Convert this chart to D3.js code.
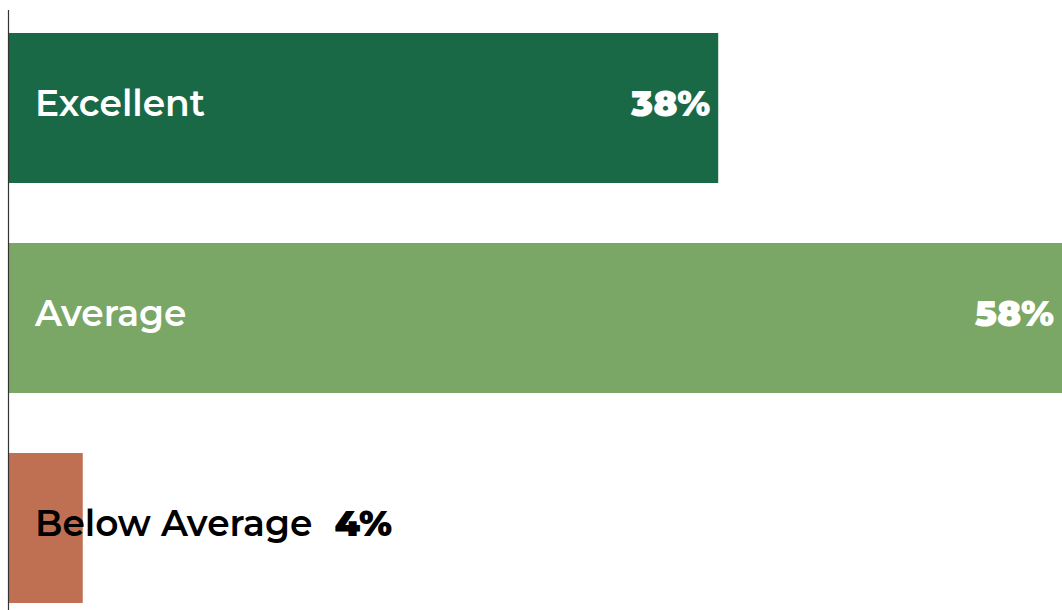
<!DOCTYPE html>
<html>
<head>
<meta charset="utf-8">
<script src="https://cdn.jsdelivr.net/npm/d3@7"></script>
<style>
    body { margin: 0; background: #fff; overflow: hidden; }
    svg { display: block; }
</style>
</head>
<body>
<div id="chart"></div>
<script>
// Data
const categories = ["Excellent", "Average", "Below Average"];
const values = [38, 58, 4];
const colors = ["#196947", "#7aa766", "#c07052"];

const width = 1062;
const height = 610;

// Scales
const x = d3.scaleLinear()
    .domain([0, d3.max(values)])
    .range([8, 1092]);

const y = d3.scaleBand()
    .domain(categories)
    .range([3, 633])
    .paddingInner(2 / 7)
    .paddingOuter(1 / 7);

const svg = d3.select("#chart").append("svg")
    .attr("width", width)
    .attr("height", height)
    .style("font-family", "Montserrat, 'Noto Sans', 'Open Sans', sans-serif");

const rows = categories.map((c, i) => ({name: c, value: values[i], color: colors[i]}));

// Bars
svg.append("g")
    .selectAll("rect")
    .data(rows)
    .join("rect")
    .attr("x", x(0))
    .attr("y", d => y(d.name))
    .attr("width", d => x(d.value) - x(0))
    .attr("height", y.bandwidth())
    .attr("fill", d => d.color);

// Axis line
const axis = svg.append("g")
    .attr("transform", `translate(${x(0)},0)`)
    .call(d3.axisLeft(y).tickSize(0).tickFormat(""));
axis.select(".domain")
    .attr("d", `M0.5,10V${height}`)
    .attr("stroke", "#333")
    .attr("stroke-width", 1.2);

// Category labels
const catLabels = svg.append("g")
    .selectAll("text")
    .data(rows)
    .join("text")
    .attr("x", 35)
    .attr("y", d => y(d.name) + y.bandwidth() / 2)
    .attr("dy", "0.22em")
    .style("font-size", "36px")
    .style("font-weight", 600)
    .attr("fill", d => (x(d.value) - x(0)) > 300 ? "#fff" : "#000")
    .text(d => d.name);

// Value labels: inside the bar end if it fits, else after the category label
svg.append("g")
    .selectAll("text")
    .data(rows)
    .join("text")
    .each(function(d, i) {
        const t = d3.select(this);
        const inside = (x(d.value) - x(0)) > 300;
        if (inside) {
            t.attr("x", Math.min(x(d.value), width) - 8)
                .attr("text-anchor", "end")
                .attr("fill", "#fff");
        } else {
            const w = catLabels.nodes()[i].getComputedTextLength();
            t.attr("x", 35 + w + 22)
                .attr("text-anchor", "start")
                .attr("fill", "#000");
        }
    })
    .attr("y", d => y(d.name) + y.bandwidth() / 2)
    .attr("dy", "0.22em")
    .style("font-size", "36px")
    .style("font-weight", 900)
    .text(d => d.value + "%");
</script>
</body>
</html>
